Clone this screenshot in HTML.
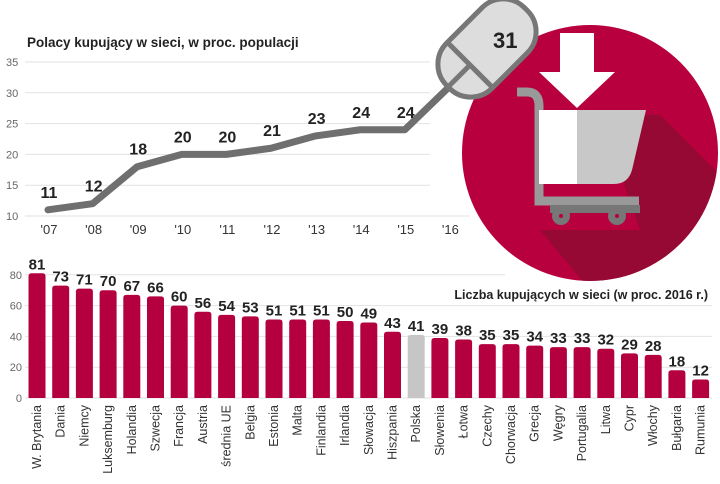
<!DOCTYPE html>
<html><head><meta charset="utf-8">
<style>
body{margin:0;background:#fff;}
svg{display:block;font-family:"Liberation Sans",sans-serif;}
</style></head>
<body>
<svg id="c" width="720" height="484" viewBox="0 0 720 484">
<defs><clipPath id="cc"><circle cx="590" cy="153" r="128"/></clipPath></defs>
<g id="topChart"></g>
<g id="botChart"></g>
<g>
<circle cx="590" cy="153" r="128" fill="#b8003f"/>
<polygon clip-path="url(#cc)" points="600,115 660,115 760,215 760,290 590,290 540,230 640,230" fill="#8e0a33" opacity="0.85"/>
<polygon points="560,33 594,33 594,72 615,72 577,108 539,72 560,72" fill="#fff"/>
<path d="M517,92 h10 q12,0 12,14 v95 h100" fill="none" stroke="#999" stroke-width="9"/>
<path d="M539,110 h38 v74 h-38 z" fill="#fff"/>
<path d="M577,110 h69 l-14,60 q-4,14 -18,14 h-37 z" fill="#c8c8c8"/>
<rect x="550" y="205" width="90" height="8" fill="#777"/>
<circle cx="561" cy="216" r="9" fill="#777"/><circle cx="561" cy="216" r="2" fill="#b8003f"/>
<circle cx="617" cy="216" r="9" fill="#777"/><circle cx="617" cy="216" r="2" fill="#b8003f"/>
</g>
<g>
<g transform="translate(487,48) rotate(-45)">
<rect x="-55" y="-32" width="110" height="64" rx="30" fill="#ddd" stroke="#777" stroke-width="5"/>
<line x1="-24" y1="-30" x2="-24" y2="30" stroke="#777" stroke-width="5"/>
<line x1="-24" y1="0" x2="-53" y2="0" stroke="#777" stroke-width="5"/>
</g>
<text x="493" y="48" font-size="22" font-weight="bold" fill="#222">31</text>
</g>
<text x="27" y="47" font-size="13.5" font-weight="bold" fill="#222">Polacy kupujący w sieci, w proc. populacji</text>
<text x="708" y="299" font-size="12.5" font-weight="bold" fill="#222" text-anchor="end">Liczba kupujących w sieci (w proc. 2016 r.)</text>
</svg>
<script>
const years=["'07","'08","'09","'10","'11","'12","'13","'14","'15","'16"];
const share=[11,12,18,20,20,21,23,24,24,31];
const yTicks=[10,15,20,25,30,35];
const countries=["W. Brytania","Dania","Niemcy","Luksemburg","Holandia","Szwecja","Francja","Austria","średnia UE","Belgia","Estonia","Malta","Finlandia","Irlandia","Słowacja","Hiszpania","Polska","Słowenia","Łotwa","Czechy","Chorwacja","Grecja","Węgry","Portugalia","Litwa","Cypr","Włochy","Bułgaria","Rumunia"];
const buyers=[81,73,71,70,67,66,60,56,54,53,51,51,51,50,49,43,41,39,38,35,35,34,33,33,32,29,28,18,12];
const barTicks=[0,20,40,60,80];
const NS="http://www.w3.org/2000/svg";
function mk(t,a,p){const e=document.createElementNS(NS,t);for(const k in a)e.setAttribute(k,a[k]);p.appendChild(e);return e;}
const gTop=document.getElementById('topChart'),gBot=document.getElementById('botChart');
const lx=i=>48+i*44.6, ly=v=>216-(v-10)*6.16;
yTicks.forEach(v=>{
 const l=mk('line',{x1:25,x2:v==10?470:430,y1:ly(v),y2:ly(v),stroke:'#e2e2e2','stroke-width':1},gTop);
 
 
 const t=mk('text',{x:6,y:ly(v)+4,'font-size':11,fill:'#666'},gTop);t.textContent=v;
 
 
});
years.forEach((y,i)=>{
 const t=mk('text',{x:lx(i)+1,y:234,'font-size':13,fill:'#333','text-anchor':'middle'},gTop);t.textContent=y;
 
 
});
let d='';share.forEach((v,i)=>{d+=(i?'L':'M')+lx(i)+','+ly(v);});
const pl=mk('path',{d:d,fill:'none',stroke:'#6f6f6f','stroke-width':7,'stroke-linejoin':'round','stroke-linecap':'round'},gTop);


share.forEach((v,i)=>{if(i==share.length-1)return;
 const t=mk('text',{x:lx(i)+1,y:ly(v)-12,'font-size':16,'font-weight':'bold',fill:'#222','text-anchor':'middle'},gTop);t.textContent=v;
 
 
});
const bx=i=>37+i*23.7, by=v=>398-v*1.54;
barTicks.forEach(v=>{
 const l=mk('line',{x1:25,x2:v==80?505:712,y1:by(v),y2:by(v),stroke:'#e2e2e2','stroke-width':1},gBot);
 
 
 const t=mk('text',{x:22,y:by(v)+4,'font-size':11,fill:'#666','text-anchor':'end'},gBot);t.textContent=v;
 
 
});
buyers.forEach((v,i)=>{
 const x=bx(i)-8.5,y=by(v);
 const r=mk('path',{d:`M${x},398 V${y+3} Q${x},${y} ${x+3},${y} H${x+14} Q${x+17},${y} ${x+17},${y+3} V398 Z`,fill:countries[i]=='Polska'?'#c6c6c6':'#b5003f'},gBot);
 
 
 const t=mk('text',{x:bx(i),y:y-4,'font-size':15,'font-weight':'bold',fill:'#222','text-anchor':'middle'},gBot);t.textContent=v;
 
 
 const c=mk('text',{transform:`translate(${bx(i)+4},405) rotate(-90)`,'font-size':12.5,fill:'#333','text-anchor':'end'},gBot);c.textContent=countries[i];
 
 
});
</script>
</body></html>
